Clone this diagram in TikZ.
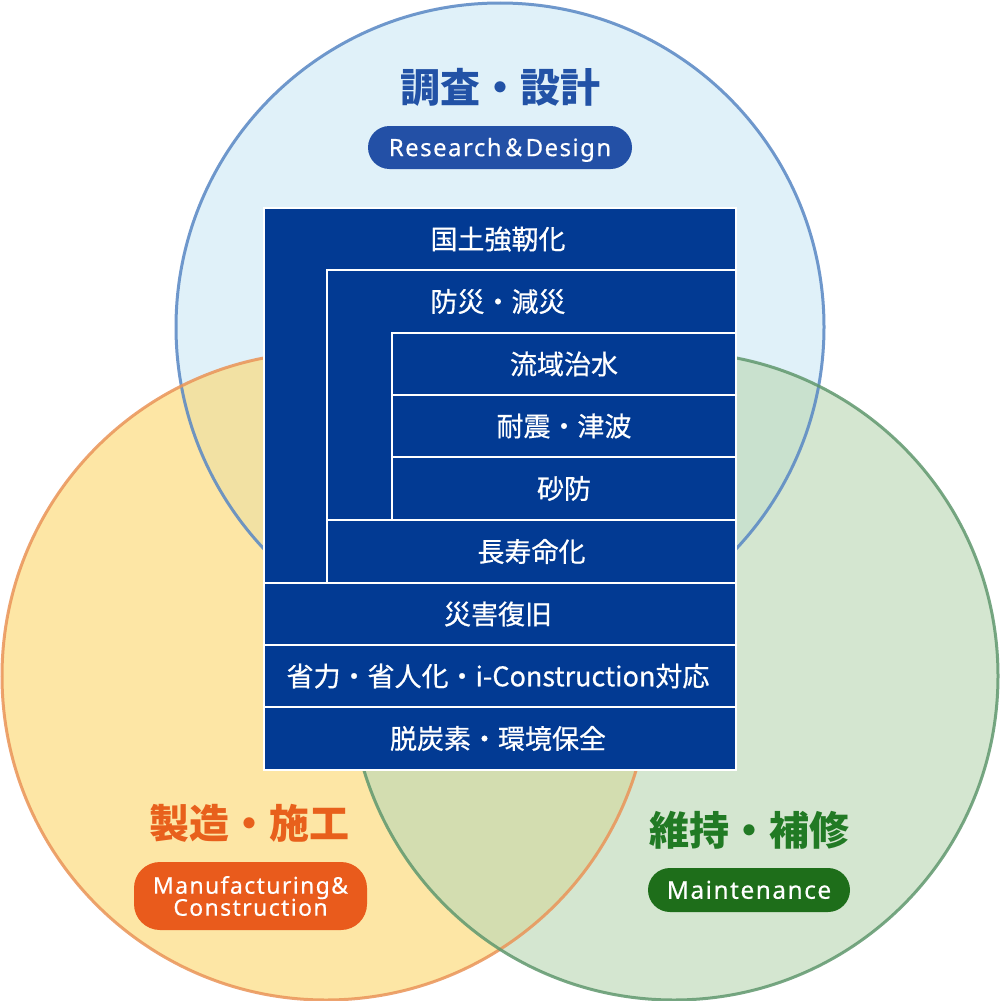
\documentclass[tikz,border=0pt]{standalone}
\usepackage{fontspec}
\newfontfamily\jp{Noto Sans CJK JP}
\newfontfamily\jpm[FakeBold=0.6]{Noto Sans CJK JP}
\newfontfamily\lat[FakeBold=0.4, LetterSpace=6]{Noto Sans}
\definecolor{navy}{RGB}{2,58,147}
\definecolor{bluefill}{RGB}{224,241,249}
\definecolor{bluestroke}{RGB}{88,135,196}
\definecolor{orangefill}{RGB}{252,217,117}
\definecolor{orangestroke}{RGB}{234,148,88}
\definecolor{greenfill}{RGB}{190,217,183}
\definecolor{greenstroke}{RGB}{96,152,110}
\definecolor{headblue}{RGB}{34,82,166}
\definecolor{pillblue}{RGB}{35,80,166}
\definecolor{headorange}{RGB}{232,96,28}
\definecolor{pillorange}{RGB}{233,91,28}
\definecolor{headgreen}{RGB}{33,122,36}
\definecolor{pillgreen}{RGB}{30,110,26}
\tikzset{
  cellbox/.style={fill=navy, draw=white, line width=1.5pt},
  celltext/.style={text=white, inner sep=0pt, text height=20.5pt, text depth=0pt,
    font=\jpm\fontsize{27}{27}\selectfont},
  heading/.style={inner sep=0pt, text height=30.4pt, text depth=0pt,
    font=\jp\bfseries\fontsize{40}{40}\selectfont},
  pill/.style={text=white, inner sep=0pt},
  ring/.style={line width=3pt, draw opacity=0.85},
}
\begin{document}
\begin{tikzpicture}[x=1pt,y=-1pt]
\useasboundingbox (0,0) rectangle (1000,1001);
\fill[white] (0,0) rectangle (1000,1001);
% circle fills
\fill[bluefill] (500,327) circle[radius=324pt];
\fill[orangefill, fill opacity=0.65] (326,676) circle[radius=324pt];
\fill[greenfill, fill opacity=0.65] (674,676) circle[radius=324pt];
% circle strokes
\draw[ring, bluestroke] (500,327) circle[radius=324pt];
\draw[ring, orangestroke] (326,676) circle[radius=324pt];
\draw[ring, greenstroke] (674,676) circle[radius=324pt];
% box
\draw[cellbox] (264,208) rectangle (736,583);
\draw[cellbox] (327,270) rectangle (736,520);
\draw[cellbox] (392,333) rectangle (736,395);
\draw[cellbox] (392,395) rectangle (736,457);
\draw[cellbox] (392,457) rectangle (736,520);
\draw[cellbox] (327,520) rectangle (736,583);
\draw[cellbox] (264,583) rectangle (736,645);
\draw[cellbox] (264,645) rectangle (736,707);
\draw[cellbox] (264,707) rectangle (736,770);
% box texts
\node[celltext] (c1) at (498,239) {国土強靭化};
\node[celltext] (c2) at (498,301.5) {防災・減災};
\node[celltext] (c3) at (564,364) {流域治水};
\node[celltext] (c4) at (564,426) {耐震・津波};
\node[celltext] (c5) at (564,488.5) {砂防};
\node[celltext] (c6) at (531.5,551.5) {長寿命化};
\node[celltext] (c7) at (498,614) {災害復旧};
\node[celltext] (c8) at (498,676) {省力・省人化・i-Construction対応};
\node[celltext] (c9) at (498,738.5) {脱炭素・環境保全};
% headings
\node[heading, text=headblue] (h1) at (500,87) {調査・設計};
\node[pill, fill=pillblue, rounded corners=21.5pt, minimum width=264pt, minimum height=43pt,
  text height=17.3pt, text depth=0pt, font=\lat\fontsize{24}{24}\selectfont]
  (p1) at (500,147.5) {Research{\jpm ＆}Design};
\node[heading, text=headorange] (h2) at (249.5,823) {製造・施工};
\node[pill, fill=pillorange, rounded corners=26pt, minimum width=233pt, minimum height=68pt,
  align=center, font=\lat\fontsize{23}{23}\selectfont] (p2) at (250.5,896) {Manufacturing\&\\[-1pt]Construction};
\node[heading, text=headgreen] (h3) at (749,830) {維持・補修};
\node[pill, fill=pillgreen, rounded corners=22pt, minimum width=202pt, minimum height=44pt,
  text height=17.5pt, text depth=0pt, font=\lat\fontsize{24.5}{24.5}\selectfont] (p3) at (749,890) {Maintenance};
\end{tikzpicture}
\end{document}
